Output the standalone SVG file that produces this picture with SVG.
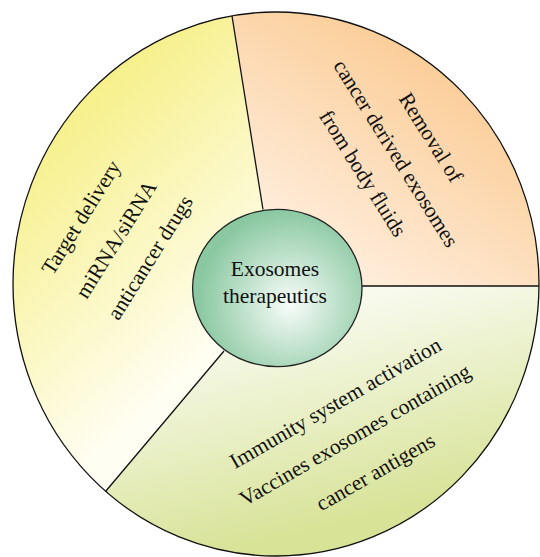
<svg xmlns="http://www.w3.org/2000/svg" width="540" height="557" viewBox="0 0 540 557">
<defs>
<linearGradient id="gY" gradientUnits="userSpaceOnUse" x1="40" y1="120" x2="235" y2="335">
<stop offset="0" stop-color="#f6ef86"/>
<stop offset="1" stop-color="#fffef3"/>
</linearGradient>
<linearGradient id="gO" gradientUnits="userSpaceOnUse" x1="455" y1="70" x2="315" y2="285">
<stop offset="0" stop-color="#fbcd97"/>
<stop offset="1" stop-color="#fff1e4"/>
</linearGradient>
<linearGradient id="gG" gradientUnits="userSpaceOnUse" x1="285" y1="315" x2="335" y2="525">
<stop offset="0" stop-color="#f8faee"/>
<stop offset="1" stop-color="#d8e398"/>
</linearGradient>
<radialGradient id="gC" gradientUnits="userSpaceOnUse" cx="290" cy="302" r="92" fx="290" fy="305">
<stop offset="0" stop-color="#f8fcf9"/>
<stop offset="1" stop-color="#8ac8a1"/>
</radialGradient>
<style>
.seg{stroke:none}
.t{font-family:"Liberation Serif","Times New Roman",serif;font-size:21.5px;fill:#111;text-anchor:middle}
.div{stroke:#111;stroke-width:1.3;fill:none}
</style>
</defs>
<g id="segment-delivery">
<path class="seg" fill="url(#gY)" d="M277,287 L232,16 A263,272 0 0 0 105.5,491.5 Z"/>
<text class="t" transform="translate(82,218) rotate(-58)" y="6">Target delivery</text>
<text class="t" transform="translate(117,240) rotate(-58)" y="6">miRNA/siRNA</text>
<text class="t" transform="translate(151,258) rotate(-58)" y="6">anticancer drugs</text>
</g>
<g id="segment-removal">
<path class="seg" fill="url(#gO)" d="M277,287 L539,286 A263,272 0 0 0 232,16 Z"/>
<text class="t" transform="translate(430,138) rotate(58)" y="6">Removal of</text>
<text class="t" transform="translate(395,154) rotate(58)" y="6">cancer derived exosomes</text>
<text class="t" transform="translate(362,174) rotate(58)" y="6">from body fluids</text>
</g>
<g id="segment-immunity">
<path class="seg" fill="url(#gG)" d="M277,287 L105.5,491.5 A263,272 0 0 0 539,286 Z"/>
<text class="t" transform="translate(336,404) rotate(-30)" y="6">Immunity system activation</text>
<text class="t" transform="translate(355.5,436) rotate(-30)" y="6">Vaccines exosomes containing</text>
<text class="t" transform="translate(376,473) rotate(-30)" y="6">cancer antigens</text>
</g>
<g id="connectors">
<line class="div" x1="263" y1="209.5" x2="232" y2="16"/>
<line class="div" x1="362" y1="286" x2="539" y2="286"/>
<line class="div" x1="224" y1="351" x2="105.5" y2="491.5"/>
<ellipse class="div" cx="276" cy="284" rx="263" ry="272" stroke-width="1.4"/>
</g>
<g id="center">
<ellipse cx="277.3" cy="288" rx="84.7" ry="78.7" fill="url(#gC)" stroke="#222" stroke-width="1.3"/>
<text class="t" x="275" y="276">Exosomes</text>
<text class="t" x="275" y="303">therapeutics</text>
</g>
</svg>
